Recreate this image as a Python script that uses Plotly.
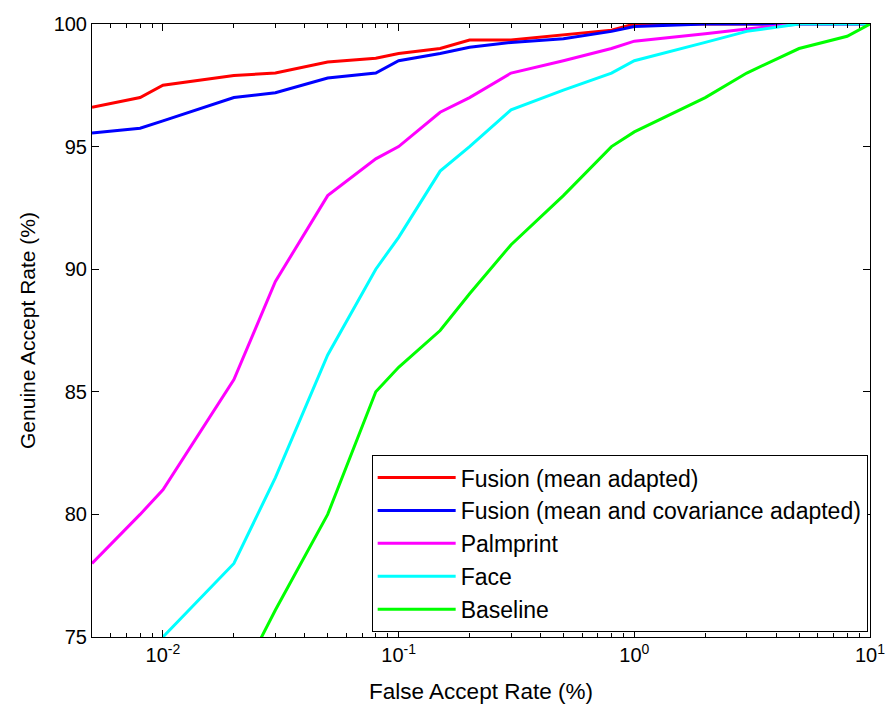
import plotly.graph_objects as go

# False accept rate (%) sample points
far_red = [0.005, 0.008, 0.01, 0.02, 0.03, 0.05, 0.08, 0.1, 0.15, 0.2, 0.3, 0.5, 0.8, 1, 2, 3, 5, 8, 10]
gar_red = [96.6, 97.0, 97.5, 97.9, 98.0, 98.45, 98.6, 98.8, 99.0, 99.35, 99.35, 99.55, 99.75, 100, 100, 100, 100, 100, 100]

far_blue = [0.005, 0.008, 0.01, 0.02, 0.03, 0.05, 0.08, 0.1, 0.15, 0.2, 0.3, 0.5, 0.8, 1, 2, 3, 5, 8, 10]
gar_blue = [95.55, 95.75, 96.05, 97.0, 97.2, 97.8, 98.0, 98.5, 98.8, 99.05, 99.25, 99.4, 99.7, 99.9, 100, 100, 100, 100, 100]

far_palm = [0.005, 0.008, 0.01, 0.02, 0.03, 0.05, 0.08, 0.1, 0.15, 0.2, 0.3, 0.5, 0.8, 1, 2, 3, 5, 8, 10]
gar_palm = [78.0, 80.0, 81.0, 85.5, 89.5, 93.0, 94.5, 95.0, 96.4, 97.0, 98.0, 98.5, 99.0, 99.3, 99.6, 99.8, 100, 100, 100]

far_face = [0.01, 0.02, 0.03, 0.05, 0.08, 0.1, 0.15, 0.2, 0.3, 0.5, 0.8, 1, 2, 3, 5, 8, 10]
gar_face = [75.0, 78.0, 81.5, 86.5, 90.0, 91.3, 94.0, 95.0, 96.5, 97.3, 98.0, 98.5, 99.25, 99.7, 100, 100, 100]

far_base = [0.02, 0.03, 0.05, 0.08, 0.1, 0.15, 0.2, 0.3, 0.5, 0.8, 1, 2, 3, 5, 8, 10]
gar_base = [72.8, 76.1, 80.0, 85.0, 86.0, 87.5, 89.0, 91.0, 93.0, 95.0, 95.6, 97.0, 98.0, 99.0, 99.5, 100]

series_names = ["Fusion (mean adapted)", "Fusion (mean and covariance adapted)", "Palmprint", "Face", "Baseline"]
series_colors = ["#FF0000", "#0000FF", "#FF00FF", "#00FFFF", "#00FF00"]

x_tick_vals = [0.01, 0.1, 1, 10]
x_tick_text = ["10<sup>-2</sup>", "10<sup>-1</sup>", "10<sup>0</sup>", "10<sup>1</sup>"]
y_tick_vals = [75, 80, 85, 90, 95, 100]

data = [(far_red, gar_red), (far_blue, gar_blue), (far_palm, gar_palm), (far_face, gar_face), (far_base, gar_base)]

fig = go.Figure()
for i, ((xs, ys), name, col) in enumerate(zip(data, series_names, series_colors)):
    fig.add_trace(go.Scatter(x=xs, y=ys, mode="lines", name=name,
                             line=dict(color=col, width=3), legendgroup=str(i)))

minor_vals = [m * 10 ** e for e in range(-3, 1) for m in range(2, 10)]

font_family = "Liberation Sans, Arial, sans-serif"
fig.update_layout(
    width=888, height=709,
    margin=dict(l=92, r=18, t=24, b=72),
    paper_bgcolor="white", plot_bgcolor="white",
    font=dict(family=font_family, size=19, color="black"),
    showlegend=True,
    legend=dict(x=0.997, y=0.008, xanchor="right", yanchor="bottom",
                bordercolor="black", borderwidth=1, bgcolor="white",
                font=dict(size=23), tracegroupgap=9, traceorder="normal",
                itemwidth=78),
)
fig.update_xaxes(
    type="log", range=[-2.30103, 1], automargin=False,
    tickvals=x_tick_vals, ticktext=x_tick_text,
    ticks="inside", ticklen=7, tickcolor="black",
    showline=True, linecolor="black", linewidth=1, mirror="allticks",
    showgrid=False, zeroline=False,
    minor=dict(tickvals=minor_vals, ticks="inside", ticklen=4, tickcolor="black", showgrid=False),
    title=dict(text="False Accept Rate (%)", standoff=18, font=dict(size=22.5)),
    tickfont=dict(size=20),
)
fig.update_yaxes(
    range=[75, 100], tickvals=y_tick_vals, automargin=False,
    ticks="inside", ticklen=7, tickcolor="black",
    showline=True, linecolor="black", linewidth=1, mirror="allticks",
    showgrid=False, zeroline=False,
    title=dict(text="Genuine Accept Rate (%)", standoff=12, font=dict(size=21)),
    tickfont=dict(size=20),
)

fig.write_html("out.html", config={"displayModeBar": False},
               post_script="document.body.style.margin='0';document.body.style.overflow='hidden';")
